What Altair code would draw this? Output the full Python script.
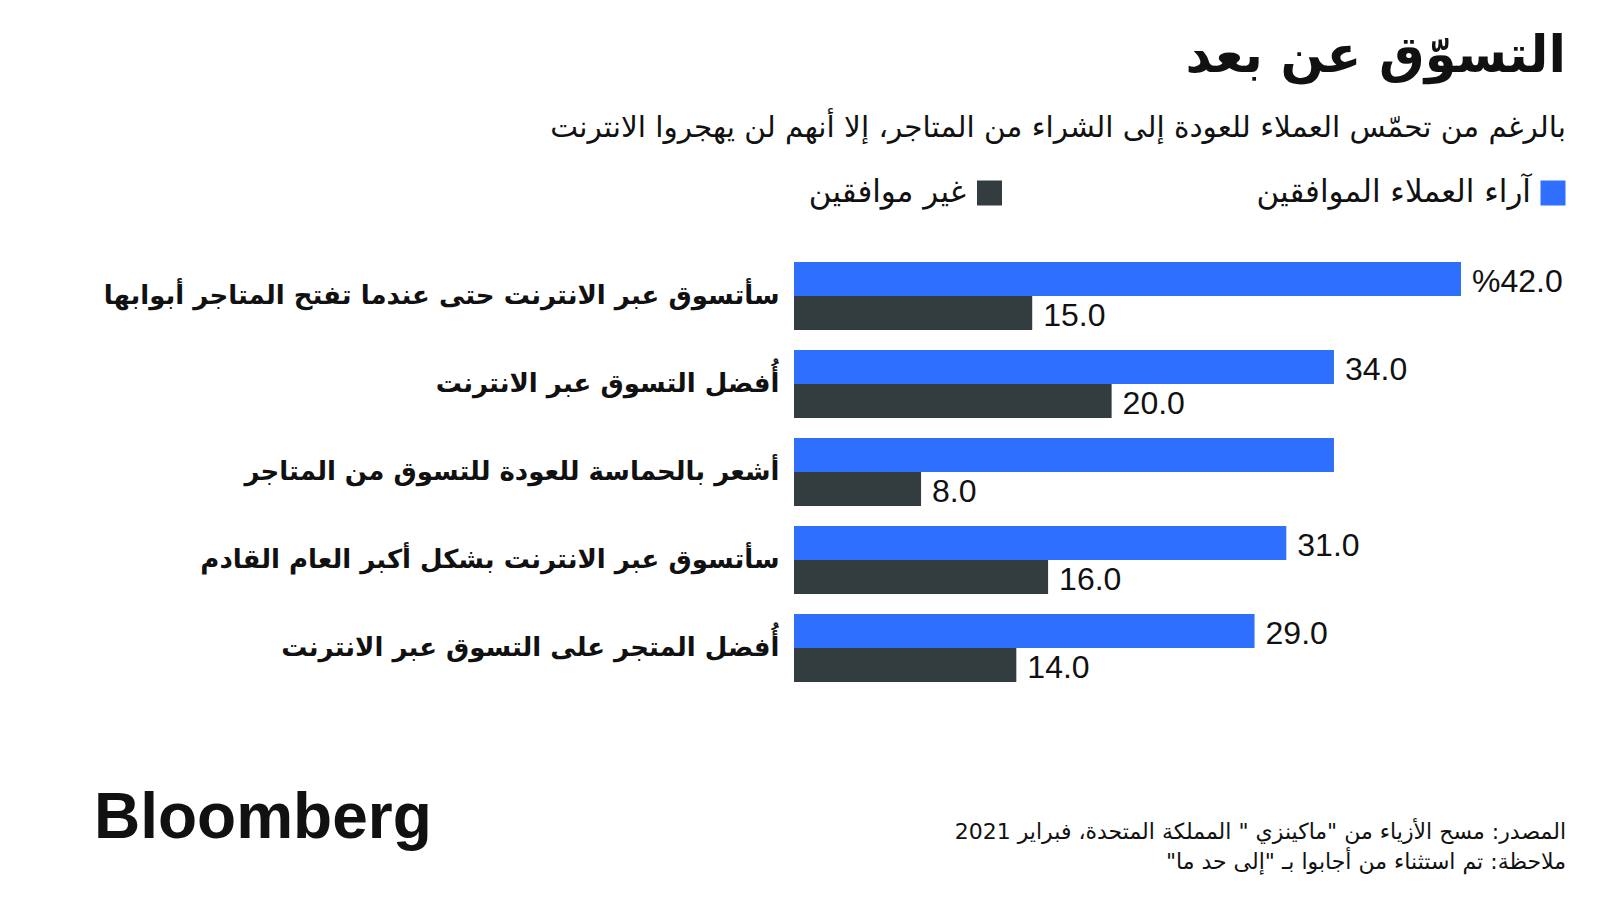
import altair as alt
import pandas as pd

categories = [
    "سأتسوق عبر الانترنت حتى عندما تفتح المتاجر أبوابها",
    "أُفضل التسوق عبر الانترنت",
    "أشعر بالحماسة للعودة للتسوق من المتاجر",
    "سأتسوق عبر الانترنت بشكل أكبر العام القادم",
    "أُفضل المتجر على التسوق عبر الانترنت",
]
series = ["آراء العملاء الموافقين", "غير موافقين"]
agree = [42.0, 34.0, 34.0, 31.0, 29.0]
disagree = [15.0, 20.0, 8.0, 16.0, 14.0]
agree_labels = ["%42.0", "34.0", "", "31.0", "29.0"]
disagree_labels = ["15.0", "20.0", "8.0", "16.0", "14.0"]
colors = ["#2f6ffe", "#333d40"]

title = "التسوّق عن بعد"
subtitle = "بالرغم من تحمّس العملاء للعودة إلى الشراء من المتاجر، إلا أنهم لن يهجروا الانترنت"
source_line = "\u200fالمصدر: مسح الأزياء من \"ماكينزي \" المملكة المتحدة، فبراير 2021\u200f"
note_line = "\u200fملاحظة: تم استثناء من أجابوا بـ \"إلى حد ما\"\u200f"
brand = "Bloomberg"

rows = []
for i, c in enumerate(categories):
    rows.append({"category": c, "series": series[0], "value": agree[i], "label": agree_labels[i]})
    rows.append({"category": c, "series": series[1], "value": disagree[i], "label": disagree_labels[i]})
df = pd.DataFrame(rows)

AR = "DejaVu Sans"
NUM = "Liberation Sans Narrow, Liberation Sans, Arial"
INK = "#111111"

base = alt.Chart(df).encode(
    y=alt.Y(
        "category:N",
        sort=categories,
        scale=alt.Scale(paddingInner=0.227, paddingOuter=0.1135),
        axis=alt.Axis(
            title=None, domain=False, ticks=False,
            labelFont=AR, labelFontWeight="bold", labelFontSize=26,
            labelColor=INK, labelPadding=15, labelLimit=900,
        ),
    ),
    yOffset=alt.YOffset("series:N", sort=series, scale=alt.Scale(paddingInner=0, paddingOuter=0)),
    x=alt.X("value:Q", scale=alt.Scale(domain=[0, 42], nice=False, zero=True), axis=None),
)

bars = base.mark_bar().encode(
    color=alt.Color("series:N", scale=alt.Scale(domain=series, range=colors), legend=None)
)
labels = base.mark_text(align="left", baseline="middle", dx=11, dy=3, font=NUM, fontSize=32, color=INK).encode(
    text="label:N"
)


def txt(s, x, y, size, align="right", weight="normal", font=AR, baseline="middle", color=INK):
    return alt.Chart(pd.DataFrame({"t": [s]})).mark_text(
        align=align, baseline=baseline, fontSize=size, fontWeight=weight, font=font, color=color
    ).encode(x=alt.value(x), y=alt.value(y), text="t:N")


def square(x, y, color):
    return alt.Chart(pd.DataFrame({"t": [0]})).mark_square(size=625, color=color, opacity=1).encode(
        x=alt.value(x), y=alt.value(y)
    )


layers = [
    bars,
    labels,
    txt(title, 772, -195, 51, weight="bold"),
    txt(subtitle, 772, -124, 29.5),
    square(759, -59, colors[0]),
    txt(series[0], 737, -59, 31),
    square(195.5, -59, colors[1]),
    txt(series[1], 172, -59, 31),
    txt(source_line, 772, 580, 22),
    txt(note_line, 772, 610, 22),
    txt(brand, -700, 586, 64, align="left", weight="bold", font="Liberation Sans", baseline="alphabetic"),
]

chart = alt.layer(*layers).properties(
    width=667,
    height=440,
    autosize=alt.AutoSizeParams(type="none"),
    padding={"left": 794, "top": 252, "right": 139, "bottom": 208},
    background="white",
).configure_view(stroke=None)

chart.save("out.html", embed_options={"renderer": "svg", "actions": False})
